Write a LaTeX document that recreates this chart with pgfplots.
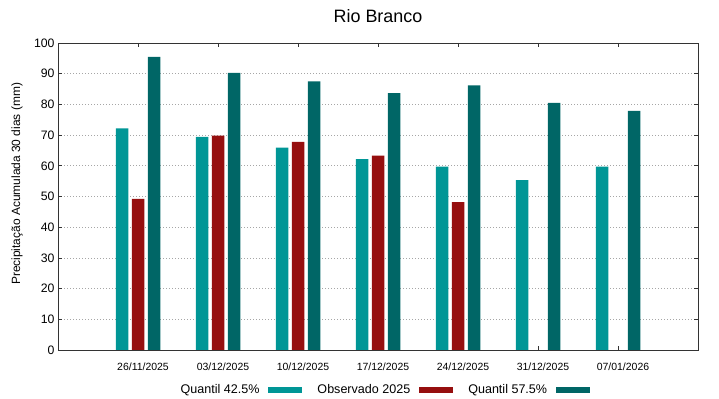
\documentclass[border=0pt]{standalone}
\usepackage{fontspec}
\setmainfont{Liberation Sans}
\usepackage{pgfplots}
\pgfplotsset{compat=1.18}
\definecolor{qlow}{RGB}{0,150,150}
\definecolor{obs}{RGB}{150,15,15}
\definecolor{qhigh}{RGB}{0,102,102}
\begin{document}
\begin{tikzpicture}
\path[use as bounding box] (0,0) rectangle (719bp,399bp);
\node[font=\fontsize{18}{20}\selectfont] at (378bp,383bp) {Rio Branco};
\begin{axis}[
  at={(58bp,49bp)}, anchor=south west,
  scale only axis, width=640bp, height=307bp,
  xmin=-1, xmax=7, ymin=0, ymax=100,
  xtick={0,...,6},
  xticklabels={26/11/2025,03/12/2025,10/12/2025,17/12/2025,24/12/2025,31/12/2025,07/01/2026},
  ytick={0,10,...,100},
  tick align=inside, major tick length=4bp,
  tick style={black!80, line width=0.6bp},
  ymajorgrids, grid style={dash pattern=on 1bp off 2bp, gray!70, line width=0.6bp},
  axis line style={black!80, line width=0.8bp},
  /pgf/number format/assume math mode=true,
  yticklabel style={font=\fontsize{12.3}{14}\selectfont},
  xticklabel style={font=\fontsize{10.5}{12}\selectfont, xshift=5bp, yshift=-9bp},
  ylabel={Precipitação Acumulada 30 dias (mm)},
  ylabel style={font=\fontsize{12}{14}\selectfont, at={(axis description cs:-0.064,0.541)}, anchor=center},
  legend columns=3,
  legend plot pos=right,
  legend image code/.code={\fill[#1,draw=none] (0bp,-3bp) rectangle (34bp,3bp);},
  legend style={font=\fontsize{12.6}{14}\selectfont, draw=none, fill=none,
    at={(axis description cs:0.51,-0.13)}, anchor=center,
    /tikz/every odd column/.append style={column sep=7bp},
    /tikz/every even column/.append style={column sep=13bp}},
]
\addplot[ybar, bar width=12.5bp, bar shift=-16bp, fill=qlow, draw=none]
  coordinates {(0,72.2) (1,69.4) (2,65.9) (3,62.2) (4,59.7) (5,55.3) (6,59.7)};
\addlegendentry{Quantil 42.5\%}
\addplot[ybar, bar width=12.5bp, bar shift=0bp, fill=obs, draw=none]
  coordinates {(0,49.2) (1,69.8) (2,67.8) (3,63.3) (4,48.2)};
\addlegendentry{Observado 2025}
\addplot[ybar, bar width=12.5bp, bar shift=16bp, fill=qhigh, draw=none]
  coordinates {(0,95.5) (1,90.3) (2,87.5) (3,83.7) (4,86.2) (5,80.5) (6,77.9)};
\addlegendentry{Quantil 57.5\%}
\end{axis}
\end{tikzpicture}
\end{document}
